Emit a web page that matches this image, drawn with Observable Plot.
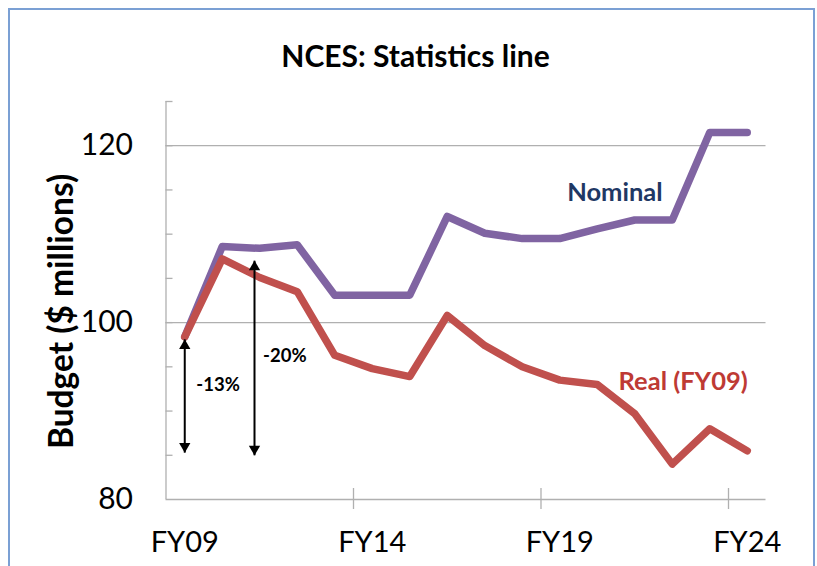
<!DOCTYPE html>
<html>
<head>
<meta charset="utf-8">
<script src="https://cdn.jsdelivr.net/npm/d3@7"></script>
<script src="https://cdn.jsdelivr.net/npm/@observablehq/plot@0.6"></script>
<style>
  html, body { margin: 0; padding: 0; background: #fff; overflow: hidden; }
  #wrap { position: relative; width: 817px; height: 566px; font-family: Lato, "Open Sans", sans-serif; }
  #frame { position: absolute; left: 8px; top: 8px; width: 803px; height: 600px; border: 2px solid #7ba0d4; pointer-events: none; }
  #title { height: 90px; box-sizing: border-box; padding-top: 40px; text-align: center; font-weight: bold; font-size: 30px; line-height: 30px; color: #000; padding-left: 14px; }
  #chart svg { display: block; overflow: visible; }
  g[aria-label="x-axis tick label"] text { font-size: 29px; }
  g[aria-label="y-axis tick label"] text { font-size: 30px; }
</style>
</head>
<body>
<div id="wrap">
  <div id="frame"></div>
  <div id="title">NCES: Statistics line</div>
  <div id="chart"></div>
</div>
<script>
const years = [2009, 2010, 2011, 2012, 2013, 2014, 2015, 2016, 2017, 2018, 2019, 2020, 2021, 2022, 2023, 2024];
const nominal = [98.4, 108.6, 108.4, 108.8, 103.1, 103.1, 103.1, 112.0, 110.1, 109.5, 109.5, 110.6, 111.6, 111.6, 121.5, 121.5];
const real = [98.4, 107.2, 105.1, 103.5, 96.3, 94.8, 93.9, 100.8, 97.4, 95.0, 93.5, 93.0, 89.7, 84.0, 88.0, 85.5];
const xLabelYears = [2009, 2014, 2019, 2024];
const xTickMarks = [2013.5, 2018.5, 2023.5];
const yLabels = [80, 100, 120];
const yMinorTicks = [85, 90, 95, 100, 105, 110, 115, 120, 125];
const seriesLabels = [
  {text: "Nominal", x: 2020.47, y: 114.7, color: "#1f3864"},
  {text: "Real (FY09)", x: 2022.29, y: 93.3, color: "#be3a34"}
];
const arrows = [
  {x: 2009, top: 98.1, bottom: 85.3, label: "-13%", lx: 2009.89, ly: 92.9},
  {x: 2010.86, top: 107.0, bottom: 85.0, label: "-20%", lx: 2011.67, ly: 96.2}
];

const nomData = years.map((yr, i) => ({year: yr, value: nominal[i]}));
const realData = years.map((yr, i) => ({year: yr, value: real[i]}));
const fy = d => "FY" + String(d % 100).padStart(2, "0");

const chart = Plot.plot({
  width: 817,
  height: 476,
  marginTop: 11,
  marginBottom: 67,
  marginLeft: 165.5,
  marginRight: 51.5,
  x: {domain: [2008.5, 2024.5]},
  y: {domain: [80, 125]},
  style: {fontFamily: "Lato, 'Open Sans', sans-serif", background: "transparent", color: "#000"},
  marks: [
    Plot.ruleY(yLabels, {stroke: "#b0b0b0", strokeWidth: 1.3}),
    Plot.ruleX([2008.5], {stroke: "#b0b0b0", strokeWidth: 1.3}),
    Plot.ruleY(yMinorTicks, {x1: 2008.5, x2: 2008.5, insetRight: -7, stroke: "#b0b0b0", strokeWidth: 1.3}),
    Plot.ruleX(xTickMarks, {y1: 80, y2: 80, insetTop: -11, insetBottom: -10, stroke: "#b0b0b0", strokeWidth: 1.3}),
    Plot.axisX({ticks: xLabelYears, tickFormat: fy, tickSize: 0, tickPadding: 32, label: null}),
    Plot.axisY({ticks: yLabels, tickSize: 0, tickPadding: 33, label: null}),
    Plot.text(["Budget ($ millions)"], {frameAnchor: "left", textAnchor: "middle", rotate: -90, dx: -104, dy: 11, fontSize: 33.5, fontWeight: "bold"}),
    Plot.line(nomData, {x: "year", y: "value", stroke: "#8064a2", strokeWidth: 7.5, strokeLinejoin: "round", strokeLinecap: "round"}),
    Plot.line(realData, {x: "year", y: "value", stroke: "#c0504d", strokeWidth: 7.5, strokeLinejoin: "round", strokeLinecap: "round"}),
    Plot.link(arrows, {x1: "x", x2: "x", y1: "bottom", y2: "top", stroke: "#000", strokeWidth: 2}),
    Plot.dot(arrows, {x: "x", y: "top", symbol: "triangle", r: 4.2, fill: "#000", stroke: null, dy: 6.3}),
    Plot.dot(arrows, {x: "x", y: "bottom", symbol: "triangle", r: 4.2, fill: "#000", stroke: null, rotate: 180, dy: -6.3}),
    Plot.text(arrows, {x: "lx", y: "ly", text: "label", fontSize: 18.5, fontWeight: "bold", fill: "#000"}),
    Plot.text(seriesLabels, {x: "x", y: "y", text: "text", fill: "color", fontSize: 25.5, fontWeight: "bold"})
  ]
});
document.getElementById("chart").appendChild(chart);
</script>
</body>
</html>
